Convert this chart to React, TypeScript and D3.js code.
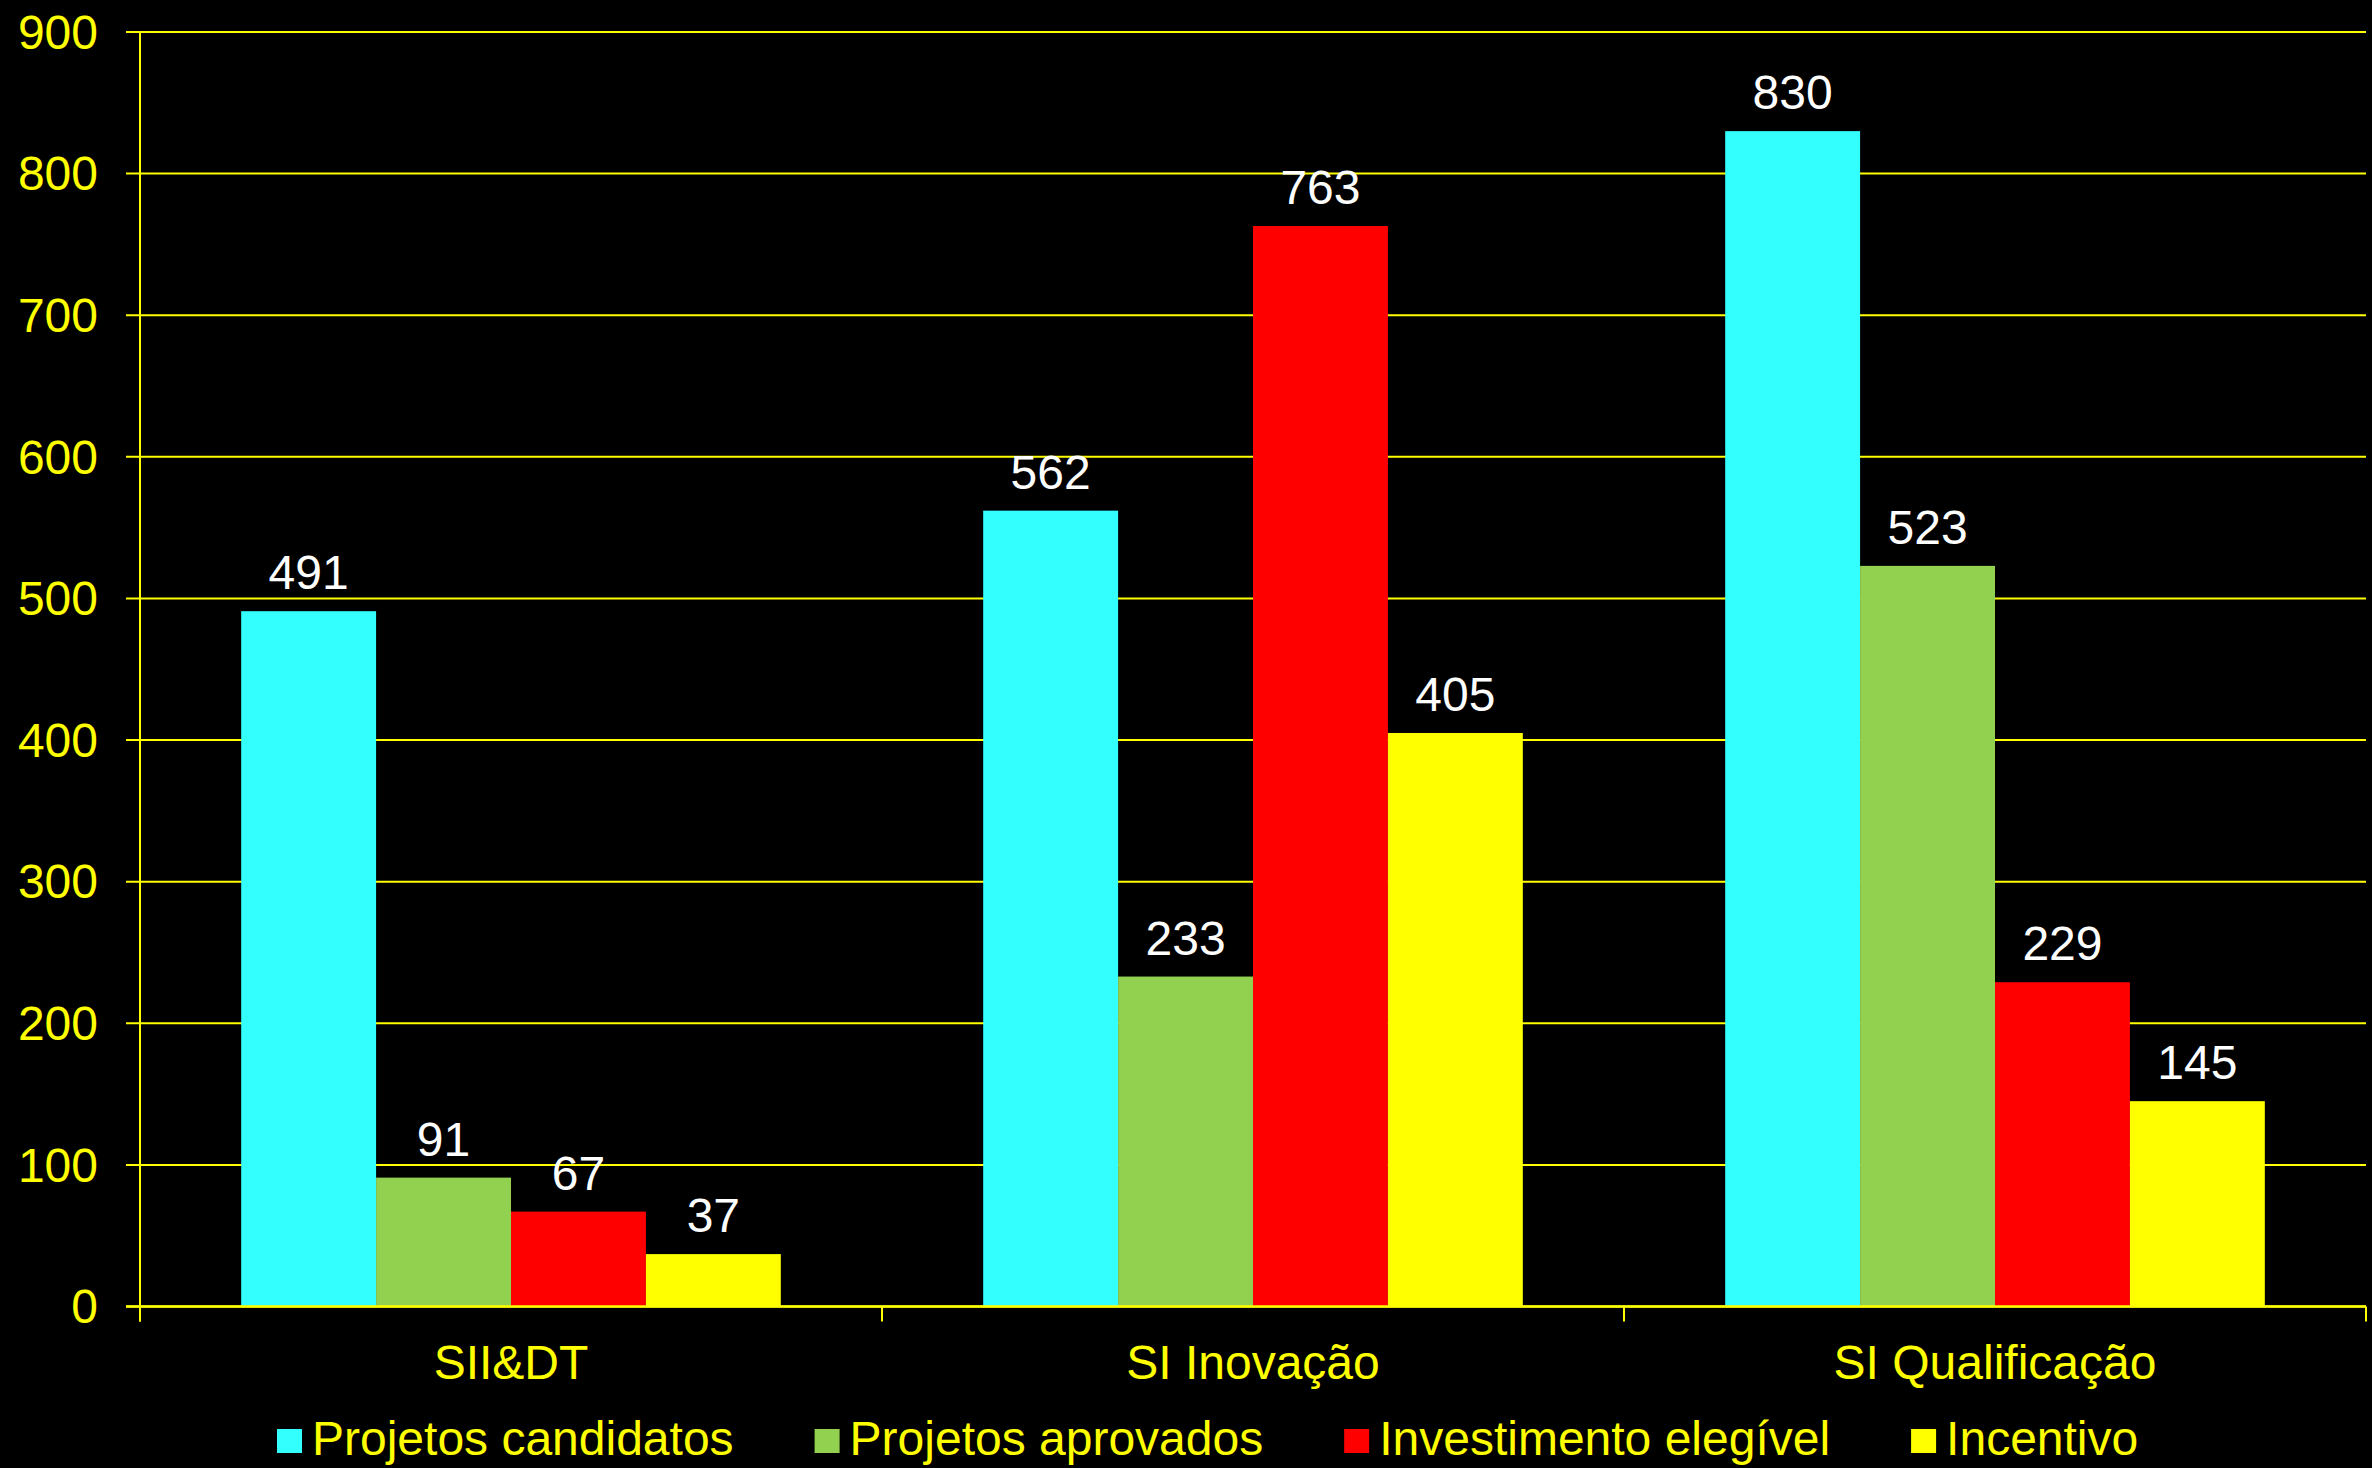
import React, { useEffect, useRef } from "react";
import * as d3 from "d3";

const categories = ["SII&DT", "SI Inovação", "SI Qualificação"];
const seriesNames = ["Projetos candidatos", "Projetos aprovados", "Investimento elegível", "Incentivo"];
const seriesColors = ["#33FFFF", "#92D050", "#FF0000", "#FFFF00"];
const projetosCandidatos = [491, 562, 830];
const projetosAprovados = [91, 233, 523];
const investimentoElegivel = [67, 763, 229];
const incentivo = [37, 405, 145];
const yTicks = [0, 100, 200, 300, 400, 500, 600, 700, 800, 900];

const seriesValues = [projetosCandidatos, projetosAprovados, investimentoElegivel, incentivo];

const W = 2372;
const H = 1468;
const FONT = "'Liberation Sans', Arial, Helvetica, sans-serif";
const AXIS = "#FFFF00";
const FS = 48;

export default function App() {
  const legendRef = useRef<SVGGElement>(null);

  useEffect(() => {
    document.body.style.margin = "0";
    document.body.style.background = "#000";
    const g = d3.select(legendRef.current);
    let x = 277;
    g.selectAll("g.item").each(function () {
      const item = d3.select(this as SVGGElement);
      item.attr("transform", `translate(${x},0)`);
      const t = item.select("text").node() as SVGTextElement;
      const w = t.getComputedTextLength();
      x += 35 + w + 81;
    });
  }, []);

  const x0 = d3.scaleBand<string>().domain(categories).range([140, 2366]).paddingInner(0).paddingOuter(0);
  const x1 = d3
    .scaleBand<string>()
    .domain(seriesNames)
    .range([0, x0.bandwidth()])
    .paddingInner(0)
    .paddingOuter(0.75);
  const y = d3.scaleLinear().domain([0, 900]).range([1306.5, 32]);

  const catBounds = [...categories.map((c) => x0(c) as number), 2366];

  return (
    <svg width={W} height={H} style={{ position: "absolute", left: 0, top: 0, background: "#000" }} fontFamily={FONT}>
      <rect x={0} y={0} width={W} height={H} fill="#000" />
      {/* gridlines & y ticks */}
      {yTicks.map((t) => (
        <g key={t}>
          <line x1={126} x2={2366} y1={y(t)} y2={y(t)} stroke={AXIS} strokeWidth={2} />
          <text x={98} y={y(t)} dy="0.35em" textAnchor="end" fill={AXIS} fontSize={FS}>
            {t}
          </text>
        </g>
      ))}
      {/* bars */}
      {categories.map((c, ci) =>
        seriesNames.map((s, si) => {
          const v = seriesValues[si][ci];
          const bx = (x0(c) as number) + (x1(s) as number);
          return (
            <g key={c + s}>
              <rect x={bx} y={y(v)} width={x1.bandwidth()} height={y(0) - y(v)} fill={seriesColors[si]} />
              <text x={bx + x1.bandwidth() / 2} y={y(v) - 22} textAnchor="middle" fill="#FFFFFF" fontSize={FS}>
                {v}
              </text>
            </g>
          );
        })
      )}
      {/* axes */}
      <line x1={140} x2={140} y1={y(900)} y2={y(0) + 15} stroke={AXIS} strokeWidth={2} />
      <line x1={126} x2={2366} y1={y(0)} y2={y(0)} stroke={AXIS} strokeWidth={2.5} />
      {catBounds.map((b, i) => (
        <line key={i} x1={b} x2={b} y1={y(0)} y2={y(0) + 15} stroke={AXIS} strokeWidth={2} />
      ))}
      {categories.map((c) => (
        <text key={c} x={(x0(c) as number) + x0.bandwidth() / 2} y={1379} textAnchor="middle" fill={AXIS} fontSize={FS}>
          {c}
        </text>
      ))}
      {/* legend */}
      <g ref={legendRef}>
        {seriesNames.map((s, i) => (
          <g className="item" key={s}>
            <rect x={0} y={1429} width={25} height={24} fill={seriesColors[i]} />
            <text x={35} y={1455} fill={AXIS} fontSize={FS}>
              {s}
            </text>
          </g>
        ))}
      </g>
    </svg>
  );
}
